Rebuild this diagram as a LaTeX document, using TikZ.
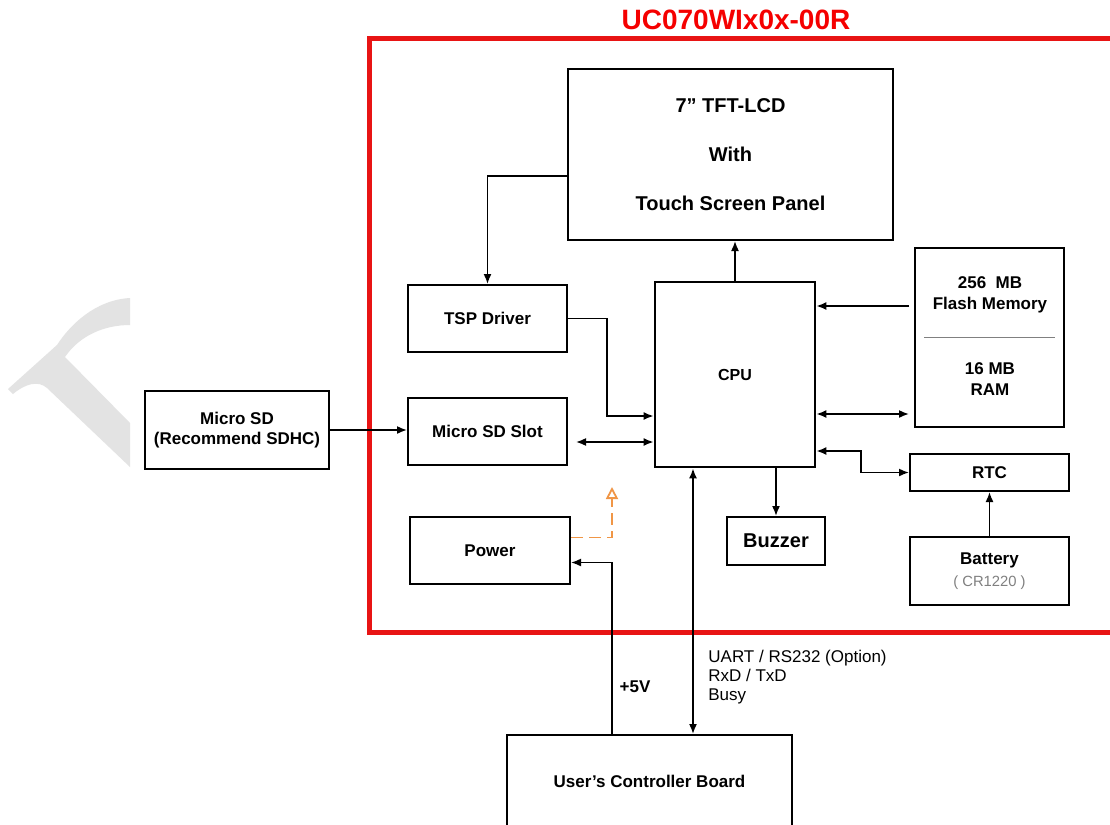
\documentclass[tikz,border=0pt]{standalone}
\usepackage{fontspec}
\setmainfont{Liberation Sans}
\usetikzlibrary{arrows.meta}
\definecolor{frame}{RGB}{232,20,20}
\definecolor{titlered}{RGB}{245,0,0}
\definecolor{pwrline}{RGB}{240,150,70}

\begin{document}
\begin{tikzpicture}[x=0.5pt,y=-0.5pt,>={Latex[length=5pt,width=4pt]}]
  \tikzstyle{every node}=[font=\fontsize{8.5}{10}\selectfont\bfseries, inner sep=0pt]
  \tikzstyle{box}=[draw, line width=1pt, align=center]
  \tikzstyle{link}=[line width=0.8pt]

  \useasboundingbox (0,0) rectangle (1110,825);
  \clip (0,0) rectangle (1110,825);
  \fill[white] (0,0) rectangle (1110,825);

  % watermark at the left
  \fill[black!11] (130,298) .. controls (95,300) and (70,325) .. (57,345) -- (8,389) -- (13,394)
    .. controls (25,384) and (38,380) .. (47,388) -- (130,467) -- (130,423) -- (65,357)
    .. controls (80,335) and (105,325) .. (130,325) -- cycle;

  % module frame
  \draw[frame, line width=2.5pt] (369,38) rectangle (1140,632);
  \node[text=titlered, font=\fontsize{14}{16}\selectfont\bfseries] (title) at (736,20) {UC070WIx0x-00R};

  \node[box, minimum width=162.5pt, minimum height=85.5pt, font=\fontsize{10}{12}\selectfont\bfseries] (lcd) at (730.5,154.5)
    {7” TFT-LCD\\[12.5pt]With\\[12.5pt]Touch Screen Panel};
  \node[box, minimum width=79.5pt, minimum height=33.5pt] (tsp) at (487.5,318.5) {TSP Driver};
  \node[box, minimum width=79.5pt, minimum height=33.5pt] (slot) at (487.5,431.5) {Micro SD Slot};
  \node[box, line width=1.4pt, minimum width=80pt, minimum height=92.5pt, font=\fontsize{8}{10}\selectfont\bfseries] (cpu) at (735,374.5) {CPU};
  \node[box, minimum width=74.5pt, minimum height=89.5pt] (mem) at (989.5,337.5) {};
  \node[align=center, font=\fontsize{8.5}{10.5}\selectfont\bfseries] (flash) at (990,295) {256\ \ MB\\Flash Memory};
  \node[align=center, font=\fontsize{8.5}{10.5}\selectfont\bfseries] (ram) at (990,379) {16 MB\\RAM};
  \node[box, minimum width=79.5pt, minimum height=18.5pt] (rtc) at (989.5,472.5) {RTC};
  \node[box, minimum width=79.5pt, minimum height=34pt] (bat) at (989.5,571)
    {Battery\\[1pt]{\mdseries\color{gray}\fontsize{7.4}{9}\selectfont( CR1220 )}};
  \node[box, minimum width=49pt, minimum height=24pt, font=\fontsize{10}{12}\selectfont\bfseries] (buz) at (776,541) {Buzzer};
  \node[box, minimum width=80pt, minimum height=33.5pt] (pwr) at (490,550.5) {Power};
  \node[box, minimum width=92pt, minimum height=39pt] (sd) at (237,430) {Micro SD\\(Recommend SDHC)};
  \node[box, minimum width=142.5pt, minimum height=46pt] (ucb) at (649.5,781) {User’s Controller Board};
  \node (vin) at (635,687) {+5V};
  \node[align=left, anchor=west, font=\fontsize{8.5}{9.5}\selectfont] (uart) at (708,677) {UART / RS232 (Option)\\RxD / TxD\\Busy};

  % connections
  \draw[gray, line width=0.7pt] ([xshift=5pt]mem.west) -- ([xshift=-5pt]mem.east);
  \draw[link,->] (lcd.west |- 0,176) -| (tsp.north);
  \draw[link,->] (tsp.east) -| (607,416) -- (cpu.west |- 0,416);
  \draw[link,<->,shorten <=4pt] (slot.east |- 0,442) -- (cpu.west |- 0,442);
  \draw[link,->] (sd.east) -- (sd.east -| slot.west);
  \draw[link,->] (cpu.north) -- (cpu.north |- lcd.south);
  \draw[link,->,shorten <=2.5pt] (mem.west |- 0,306) -- (cpu.east |- 0,306);
  \draw[link,<->,shorten >=2.5pt] (cpu.east |- 0,414) -- (mem.west |- 0,414);
  \draw[link,<->] (cpu.east |- 0,451) -- (861,451) |- (rtc.west);
  \draw[link,->] (bat.north) -- (rtc.south);
  \draw[link,->] (cpu.south -| buz.north) -- (buz.north);
  \draw[link,->] (ucb.north -| 612,0) |- ([yshift=-6pt]pwr.east);
  \draw[link,<->] (cpu.south -| 693,0) -- (ucb.north -| 693,0);
  \coordinate (pwrout) at (612,487);
  \draw[pwrline, line width=0.9pt, dash pattern=on 6pt off 3pt, -{Triangle[open,length=6pt,width=6pt]}]
    ([yshift=6.5pt]pwr.east) -| (pwrout);
\end{tikzpicture}
\end{document}
